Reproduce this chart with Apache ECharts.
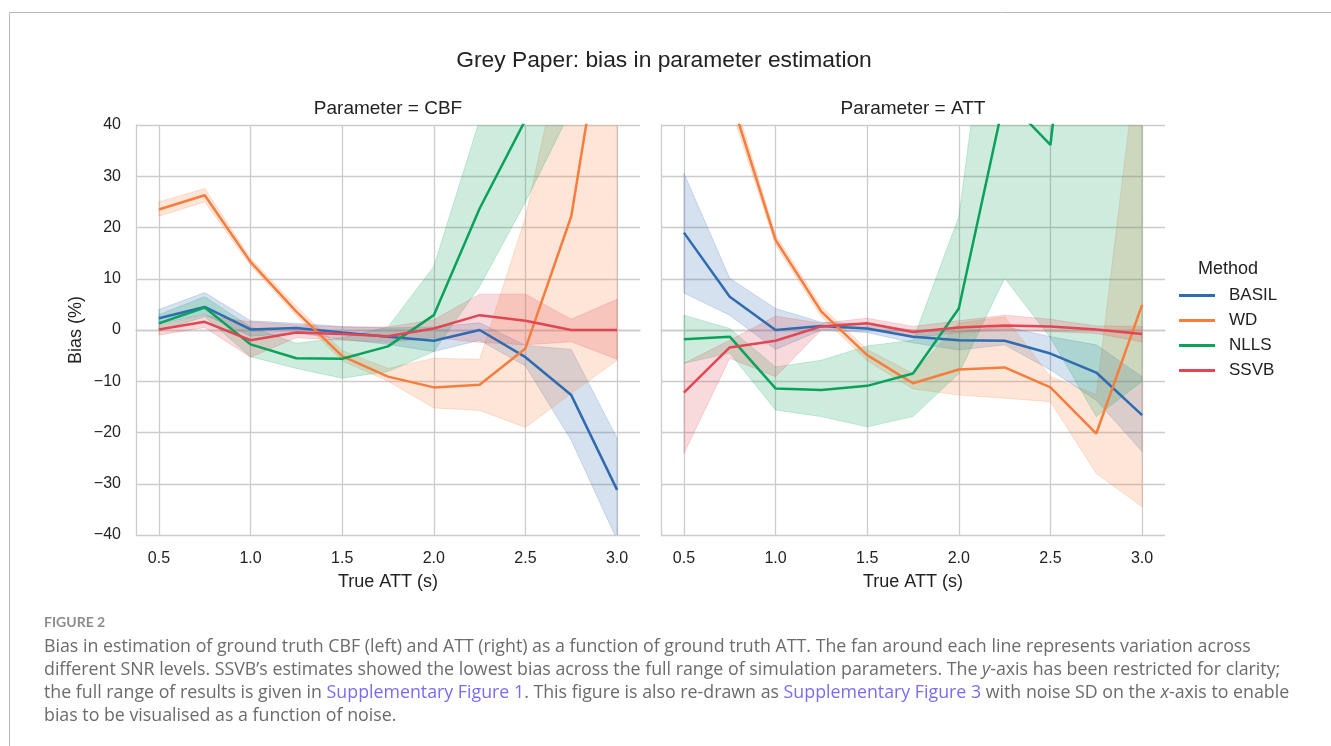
<!DOCTYPE html>
<html>
<head>
<meta charset="utf-8">
<script src="https://cdn.jsdelivr.net/npm/echarts@6/dist/echarts.min.js"></script>
<style>
html,body{margin:0;padding:0;background:#fff;}
#chart{width:1331px;height:746px;}
</style>
</head>
<body>
<div id="chart"></div>
<script>
// ---- data ----
const trueATT = [0.5, 0.75, 1.0, 1.25, 1.5, 1.75, 2.0, 2.25, 2.5, 2.75, 3.0];
const xTickLabels = ['0.5', '1.0', '1.5', '2.0', '2.5', '3.0'];
const yTickValues = [-40, -30, -20, -10, 0, 10, 20, 30, 40];
const methods = ['BASIL', 'WD', 'NLLS', 'SSVB'];
const panels = ['CBF', 'ATT'];

// Parameter = CBF
const basilCBF    = [2.3, 4.5, 0.1, 0.4, -0.5, -1.3, -2.1, 0.0, -5.3, -12.7, -31.2];
const basilCBF_lo = [1.2, 3.0, -1.2, -0.6, -1.8, -2.8, -4.2, -2.0, -7.0, -21.5, -41.0];
const basilCBF_hi = [4.0, 7.3, 1.8, 1.3, 0.7, 0.4, 0.6, 1.4, -3.0, -3.8, -21.1];
const wdCBF       = [23.5, 26.3, 13.3, 3.6, -5.1, -9.1, -11.2, -10.7, -3.6, 22.2, 77.0];
const wdCBF_lo    = [22.2, 25.0, 12.6, 2.8, -6.0, -10.0, -15.2, -15.7, -19.0, -12.4, -5.9];
const wdCBF_hi    = [25.0, 27.6, 14.0, 4.6, -4.0, -7.5, -5.5, -5.7, 22.0, 63.0, 150.0];
const nllsCBF     = [1.3, 4.4, -2.8, -5.5, -5.6, -3.2, 2.9, 23.7, 41.0, 70.0, 100.0];
const nllsCBF_lo  = [-0.2, 2.6, -5.2, -7.5, -9.4, -8.1, -4.2, 8.5, 25.0, 43.0, 60.0];
const nllsCBF_hi  = [3.0, 6.5, 0.6, -2.6, -1.5, 0.6, 12.4, 41.0, 80.0, 120.0, 150.0];
const ssvbCBF     = [0.1, 1.6, -2.0, -0.5, -0.8, -1.2, 0.3, 2.9, 1.8, 0.0, 0.0];
const ssvbCBF_lo  = [-1.0, 0.5, -5.3, -1.5, -2.0, -2.4, -1.5, -2.4, -2.9, -2.3, -5.7];
const ssvbCBF_hi  = [1.0, 2.8, 1.6, 1.0, 0.6, 0.6, 2.0, 7.0, 7.0, 2.1, 6.0];

// Parameter = ATT
const basilATT    = [19.0, 6.5, 0.0, 0.8, 0.3, -1.3, -2.0, -2.1, -4.6, -8.3, -16.6];
const basilATT_lo = [7.2, 2.9, -3.8, 0.0, -0.5, -2.5, -3.9, -2.9, -7.8, -13.7, -23.7];
const basilATT_hi = [30.6, 10.1, 4.2, 1.5, 1.2, 0.0, -0.3, 0.7, -1.3, -2.9, -9.1];
const wdATT       = [95.0, 46.0, 17.6, 3.6, -4.9, -10.4, -7.7, -7.3, -11.2, -20.2, 4.9];
const wdATT_lo    = [90.0, 44.0, 16.6, 2.6, -6.0, -11.5, -12.7, -13.3, -14.0, -28.0, -34.5];
const wdATT_hi    = [100.0, 48.0, 18.6, 4.6, -3.8, -8.5, 1.3, 2.6, -9.1, -12.6, 61.0];
const nllsATT     = [-1.8, -1.3, -11.4, -11.7, -10.9, -8.5, 4.2, 45.4, 36.1, 114.0, 100.0];
const nllsATT_lo  = [-6.5, -4.5, -15.6, -16.9, -18.9, -16.9, -8.5, 10.1, -1.5, -16.9, -10.0];
const nllsATT_hi  = [2.9, 0.3, -7.2, -5.9, -3.1, -2.0, 22.1, 90.0, 100.0, 200.0, 200.0];
const ssvbATT     = [-12.2, -3.4, -2.1, 0.7, 1.3, -0.4, 0.5, 0.9, 0.7, 0.1, -0.8];
const ssvbATT_lo  = [-24.1, -5.5, -9.1, 0.0, 0.6, -1.5, -0.5, 0.0, -0.3, -0.7, -2.3];
const ssvbATT_hi  = [-6.5, -2.0, 2.7, 1.3, 2.3, 0.7, 1.8, 2.9, 2.1, 0.8, 0.7];

// ---- styling ----
const colors = { BASIL: '#2e6bb1', WD: '#f77d3d', NLLS: '#0aa15a', SSVB: '#e14652' };
const fills  = { BASIL: 'rgba(46,107,177,0.2)', WD: 'rgba(247,125,61,0.2)', NLLS: 'rgba(10,161,90,0.2)', SSVB: 'rgba(225,70,82,0.2)' };
const gridColor = '#cccccc';
const FONT = 'Liberation Sans, Arial, sans-serif';
const CAPFONT = 'Open Sans, Lato, sans-serif';
const CAPSIZE = 17.8;

const table = {
  CBF: { BASIL: [basilCBF, basilCBF_lo, basilCBF_hi], WD: [wdCBF, wdCBF_lo, wdCBF_hi],
         NLLS: [nllsCBF, nllsCBF_lo, nllsCBF_hi], SSVB: [ssvbCBF, ssvbCBF_lo, ssvbCBF_hi] },
  ATT: { BASIL: [basilATT, basilATT_lo, basilATT_hi], WD: [wdATT, wdATT_lo, wdATT_hi],
         NLLS: [nllsATT, nllsATT_lo, nllsATT_hi], SSVB: [ssvbATT, ssvbATT_lo, ssvbATT_hi] }
};

function bandRenderer(lo, hi, fill) {
  return function (params, api) {
    if (params.dataIndex !== 0) return null;
    const pts = [];
    for (let i = 0; i < trueATT.length; i++) pts.push(api.coord([trueATT[i], hi[i]]));
    for (let i = trueATT.length - 1; i >= 0; i--) pts.push(api.coord([trueATT[i], lo[i]]));
    const cs = params.coordSys;
    return {
      type: 'polygon',
      shape: { points: pts },
      style: { fill: fill, stroke: fill, lineWidth: 1 },
      clipPath: { type: 'rect', shape: { x: cs.x, y: cs.y, width: cs.width, height: cs.height } }
    };
  };
}

const series = [];
panels.forEach((p, gi) => {
  methods.forEach(m => {
    const [mean, lo, hi] = table[p][m];
    series.push({
      name: m, type: 'line', xAxisIndex: gi, yAxisIndex: gi,
      symbol: 'none', clip: true, z: 3,
      lineStyle: { color: colors[m], width: 2.5 }, itemStyle: { color: colors[m] },
      data: trueATT.map((x, i) => [x, mean[i]])
    });
    series.push({
      name: m + ' band', type: 'custom', xAxisIndex: gi, yAxisIndex: gi,
      silent: true, clip: true, z: 3,
      encode: { x: 0, y: [1, 2] },
      data: trueATT.map((x, i) => [x, lo[i], hi[i]]),
      renderItem: bandRenderer(lo, hi, fills[m])
    });
  });
});

function xLabel(v) {
  const s = v.toFixed(1);
  return (Math.abs(v * 2 - Math.round(v * 2)) < 1e-9 && xTickLabels.indexOf(s) >= 0) ? s : '';
}
const T = 'rgba(0,0,0,0)';
function xAxisCfg(gi) {
  return {
    type: 'value', gridIndex: gi, min: 0.375, max: 3.125, interval: 0.125,
    name: 'True ATT (s)', nameLocation: 'middle', nameGap: 38,
    nameTextStyle: { fontFamily: FONT, fontSize: 18, color: '#222' },
    axisLine: { show: true, lineStyle: { color: gridColor, width: 1.3 } },
    axisTick: { show: false },
    axisLabel: { formatter: xLabel, fontFamily: FONT, fontSize: 16, color: '#222', margin: 16 },
    splitLine: { show: true, lineStyle: { color: [T, gridColor, T, T], width: 1.3 } }
  };
}
function yAxisCfg(gi) {
  return {
    type: 'value', gridIndex: gi, min: yTickValues[0], max: yTickValues[yTickValues.length - 1], interval: 10,
    name: gi === 0 ? 'Bias (%)' : '', nameLocation: 'middle', nameGap: 51,
    nameTextStyle: { fontFamily: FONT, fontSize: 18, color: '#222' },
    axisLine: { show: true, lineStyle: { color: gridColor, width: 1.3 } },
    axisTick: { show: false },
    axisLabel: { show: gi === 0, fontFamily: FONT, fontSize: 16, color: '#222', margin: 15,
      formatter: v => v < 0 ? '\u2212' + Math.abs(v) : String(v) },
    splitLine: { show: true, lineStyle: { color: gridColor, width: 1.3 } }
  };
}

const capBase = { fontFamily: CAPFONT, fontSize: CAPSIZE, fill: '#6b6b6b' };
const rich = {
  l: { fontFamily: CAPFONT, fontSize: CAPSIZE, fill: '#7a6cf2' },
  i: { fontFamily: CAPFONT, fontSize: CAPSIZE, fill: '#6b6b6b', fontStyle: 'italic' },
  n: { fontFamily: CAPFONT, fontSize: CAPSIZE, fill: '#6b6b6b' }
};
const capLines = [
  '{n|Bias in estimation of ground truth CBF (left) and ATT (right) as a function of ground truth ATT. The fan around each line represents variation across}',
  '{n|different SNR levels. SSVB\u2019s estimates showed the lowest bias across the full range of simulation parameters. The }{i|y}{n|-axis has been restricted for clarity;}',
  '{n|the full range of results is given in }{l|Supplementary Figure 1}{n|. This figure is also re-drawn as }{l|Supplementary Figure 3}{n| with noise SD on the }{i|x}{n|-axis to enable}',
  '{n|bias to be visualised as a function of noise.}'
];
const capY = [647, 670, 693, 716];

const graphic = [
  { type: 'line', shape: { x1: 9.5, y1: 12.5, x2: 1331, y2: 12.5 }, style: { stroke: '#b8b8b8', lineWidth: 1 }, silent: true },
  { type: 'line', shape: { x1: 9.5, y1: 12.5, x2: 9.5, y2: 746 }, style: { stroke: '#b8b8b8', lineWidth: 1 }, silent: true },
  { type: 'text', x: 44, y: 622, style: { text: 'FIGURE 2', fontFamily: 'Lato, sans-serif', fontSize: 14, fontWeight: 'bold', fill: '#8c8c8c', verticalAlign: 'middle' }, silent: true }
].concat(capLines.map((t, k) => ({
  type: 'text', x: 44, y: capY[k], silent: true,
  style: Object.assign({ text: t, rich: rich, verticalAlign: 'middle' }, capBase)
})));

const option = {
  backgroundColor: '#ffffff',
  animation: false,
  title: [
    { text: 'Grey Paper: bias in parameter estimation', left: 664, textAlign: 'center', top: 49, padding: 0,
      textStyle: { fontFamily: FONT, fontSize: 22.8, fontWeight: 'normal', color: '#222' } },
    { text: 'Parameter = CBF', left: 388, textAlign: 'center', top: 99, padding: 0,
      textStyle: { fontFamily: FONT, fontSize: 19, fontWeight: 'normal', color: '#222' } },
    { text: 'Parameter = ATT', left: 913, textAlign: 'center', top: 99, padding: 0,
      textStyle: { fontFamily: FONT, fontSize: 19, fontWeight: 'normal', color: '#222' } },
    { text: 'Method', left: 1228, textAlign: 'center', top: 260, padding: 0,
      textStyle: { fontFamily: FONT, fontSize: 18, fontWeight: 'normal', color: '#222' } }
  ],
  legend: {
    data: methods, orient: 'vertical', left: 1179, top: 287, padding: 0,
    icon: 'rect', itemWidth: 36, itemHeight: 3, itemGap: 8,
    formatter: n => '{t|' + n + '}',
    textStyle: { rich: { t: { fontFamily: FONT, fontSize: 17, color: '#222', padding: [0, 0, 0, 9] } } }
  },
  grid: [
    { left: 136, top: 125, width: 504, height: 410 },
    { left: 661, top: 125, width: 504, height: 410 }
  ],
  xAxis: [xAxisCfg(0), xAxisCfg(1)],
  yAxis: [yAxisCfg(0), yAxisCfg(1)],
  series: series,
  graphic: graphic
};

const chart = echarts.init(document.getElementById('chart'), null, { renderer: 'canvas' });
chart.setOption(option);
</script>
</body>
</html>
